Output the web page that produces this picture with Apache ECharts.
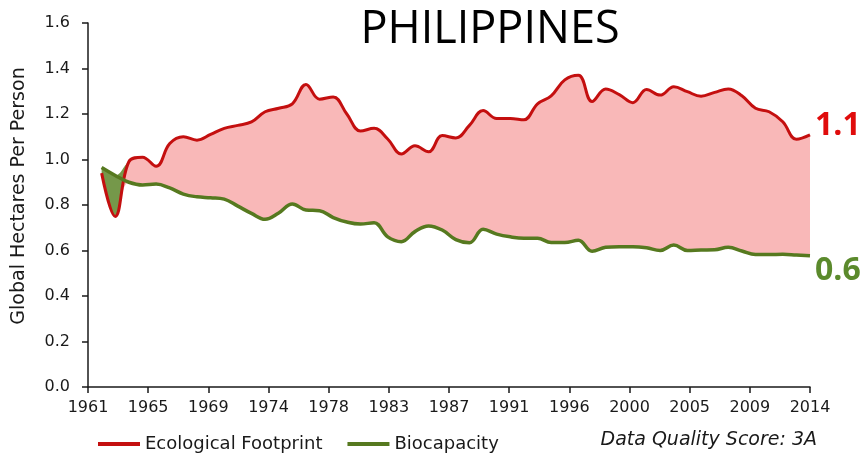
<!DOCTYPE html>
<html>
<head>
<meta charset="utf-8">
<script src="https://cdn.jsdelivr.net/npm/echarts@6/dist/echarts.min.js"></script>
<style>
  html, body { margin: 0; padding: 0; background: #fff; }
  #chart { width: 866px; height: 455px; }
</style>
</head>
<body>
<div id="chart"></div>
<script>
// axis runs 1961..2014, data starts in 1962
const axisYears = ['1961', '1962', '1963', '1964', '1965', '1966', '1967', '1968', '1969', '1970',
    '1971', '1972', '1973', '1974', '1975', '1976', '1977', '1978', '1979', '1980',
    '1981', '1982', '1983', '1984', '1985', '1986', '1987', '1988', '1989', '1990',
    '1991', '1992', '1993', '1994', '1995', '1996', '1997', '1998', '1999', '2000',
    '2001', '2002', '2003', '2004', '2005', '2006', '2007', '2008', '2009', '2010',
    '2011', '2012', '2013', '2014'];
const years = axisYears.slice(1);

const footprint = [0.94, 0.75, 0.99, 1.01, 0.97, 1.07, 1.10, 1.085, 1.11, 1.137,
    1.15, 1.165, 1.21, 1.225, 1.245, 1.33, 1.265, 1.275, 1.20, 1.125,
    1.137, 1.09, 1.024, 1.06, 1.034, 1.105, 1.095, 1.15, 1.215, 1.18,
    1.18, 1.175, 1.245, 1.28, 1.35, 1.37, 1.255, 1.31, 1.285, 1.25,
    1.308, 1.283, 1.32, 1.298, 1.278, 1.295, 1.31, 1.28, 1.225, 1.21,
    1.166, 1.089, 1.108];

const biocapacity = [0.965, 0.93, 0.90, 0.888, 0.892, 0.875, 0.848, 0.836, 0.832, 0.826,
    0.795, 0.763, 0.737, 0.765, 0.804, 0.778, 0.775, 0.745, 0.725, 0.716,
    0.722, 0.66, 0.639, 0.683, 0.708, 0.69, 0.648, 0.634, 0.693, 0.672,
    0.66, 0.654, 0.654, 0.635, 0.635, 0.645, 0.597, 0.614, 0.617, 0.617,
    0.612, 0.60, 0.624, 0.60, 0.602, 0.603, 0.614, 0.598, 0.582, 0.582,
    0.583, 0.58, 0.577];

// x tick labels sit at 12 equal steps between 1961 and 2014
const tickLabels = ['1961', '1965', '1969', '1974', '1978', '1983', '1987',
    '1991', '1996', '2000', '2005', '2009', '2014'];
const tickValues = tickLabels.map(function (_, i) {
    return 1961 + i * 53 / (tickLabels.length - 1);
});

const redLine = '#c40f0f';
const greenLine = '#56791f';
const pinkFill = '#f9b8b8';
const greenFill = '#75984a';
const smoothness = 0.4;
const baseFont = 'DejaVu Sans';
const axisColor = '#1a1a1a';

function pairs(values) {
    return years.map(function (y, i) { return [y, values[i]]; });
}

// band between the two lines: base = lower line, then deficit (pink), then reserve (green)
const lowerLine = footprint.map(function (v, i) { return Math.min(v, biocapacity[i]); });
const deficit = footprint.map(function (v, i) { return Math.max(v - biocapacity[i], 0); });
const reserve = footprint.map(function (v, i) { return Math.max(biocapacity[i] - v, 0); });

const chart = echarts.init(document.getElementById('chart'), null, { renderer: 'canvas' });

const option = {
    backgroundColor: '#ffffff',
    animation: false,
    grid: { left: 88, right: 56, top: 23, bottom: 68 },
    xAxis: [
        {
            // data axis, hidden
            type: 'category',
            data: axisYears,
            boundaryGap: false,
            position: 'bottom',
            show: false
        },
        {
            // visible axis with the evenly spread year labels
            type: 'value',
            min: 1961,
            max: 2014,
            position: 'bottom',
            z: 10,
            axisLine: { lineStyle: { color: axisColor, width: 1.5 } },
            axisTick: {
                show: true,
                length: 6,
                customValues: tickValues,
                lineStyle: { color: axisColor, width: 1.5 }
            },
            axisLabel: {
                customValues: tickValues,
                margin: 13,
                color: axisColor,
                fontFamily: baseFont,
                fontSize: 16,
                formatter: function (v) {
                    const idx = Math.round((v - 1961) * (tickLabels.length - 1) / 53);
                    return tickLabels[idx];
                }
            },
            splitLine: { show: false }
        }
    ],
    yAxis: {
        type: 'value',
        min: 0,
        max: 1.6,
        interval: 0.2,
        z: 10,
        axisLine: { show: true, lineStyle: { color: axisColor, width: 1.5 } },
        axisTick: { show: true, length: 6, lineStyle: { color: axisColor, width: 1.5 } },
        axisLabel: {
            margin: 18,
            color: axisColor,
            fontFamily: baseFont,
            fontSize: 16,
            formatter: function (v) { return v.toFixed(1); }
        },
        splitLine: { show: false }
    },
    legend: {
        left: 93,
        top: 430,
        icon: 'rect',
        itemWidth: 42,
        itemHeight: 4,
        itemGap: 25,
        data: ['Ecological Footprint', 'Biocapacity'],
        textStyle: { color: axisColor, fontFamily: baseFont, fontSize: 18 }
    },
    graphic: [
        {
            type: 'text',
            style: {
                text: 'PHILIPPINES',
                x: 490, y: 30,
                align: 'center', verticalAlign: 'middle',
                fontFamily: 'Open Sans', fontSize: 45,
                fill: '#000'
            }
        },
        {
            type: 'text',
            x: 19, y: 196,
            rotation: Math.PI / 2,
            style: {
                text: 'Global Hectares Per Person',
                align: 'center', verticalAlign: 'middle',
                fontFamily: baseFont, fontSize: 19,
                fill: axisColor
            }
        },
        {
            type: 'text',
            style: {
                text: '1.1',
                x: 815, y: 126,
                align: 'left', verticalAlign: 'middle',
                fontFamily: 'Open Sans', fontWeight: 'bold', fontSize: 32,
                fill: '#e00c0c'
            }
        },
        {
            type: 'text',
            style: {
                text: '0.6',
                x: 815, y: 271,
                align: 'left', verticalAlign: 'middle',
                fontFamily: 'Open Sans', fontWeight: 'bold', fontSize: 32,
                fill: '#5b8a2c'
            }
        },
        {
            type: 'text',
            style: {
                text: 'Data Quality Score: 3A',
                x: 817, y: 440,
                align: 'right', verticalAlign: 'middle',
                fontFamily: baseFont, fontStyle: 'italic', fontSize: 19,
                fill: axisColor
            }
        }
    ],
    series: [
        {
            name: 'bandBase',
            type: 'line',
            stack: 'band',
            data: pairs(lowerLine),
            smooth: smoothness,
            showSymbol: false,
            silent: true,
            lineStyle: { width: 0, opacity: 0 },
            z: 1
        },
        {
            name: 'bandDeficit',
            type: 'line',
            stack: 'band',
            data: pairs(deficit),
            smooth: smoothness,
            showSymbol: false,
            silent: true,
            lineStyle: { width: 0, opacity: 0 },
            areaStyle: { color: pinkFill, opacity: 1 },
            z: 1
        },
        {
            name: 'bandReserve',
            type: 'line',
            stack: 'band',
            data: pairs(reserve),
            smooth: smoothness,
            showSymbol: false,
            silent: true,
            lineStyle: { width: 0, opacity: 0 },
            areaStyle: { color: greenFill, opacity: 1 },
            z: 1
        },
        {
            name: 'Ecological Footprint',
            type: 'line',
            data: pairs(footprint),
            smooth: smoothness,
            showSymbol: false,
            lineStyle: { color: redLine, width: 3 },
            itemStyle: { color: redLine },
            z: 5
        },
        {
            name: 'Biocapacity',
            type: 'line',
            data: pairs(biocapacity),
            smooth: smoothness,
            showSymbol: false,
            lineStyle: { color: greenLine, width: 3.5 },
            itemStyle: { color: greenLine },
            z: 6
        }
    ]
};

chart.setOption(option);
</script>
</body>
</html>
